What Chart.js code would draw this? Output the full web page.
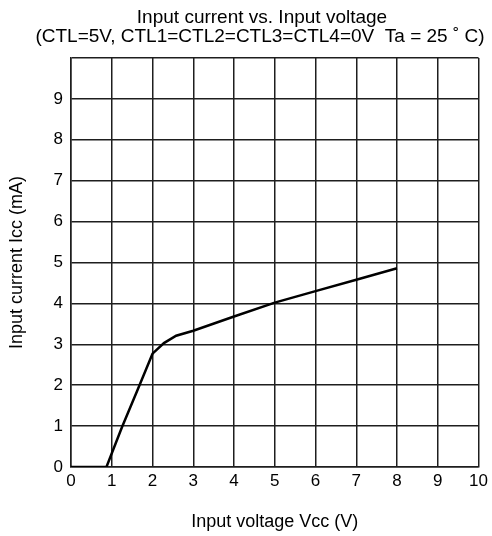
<!DOCTYPE html>
<html>
<head>
<meta charset="utf-8">
<script src="https://cdn.jsdelivr.net/npm/chart.js@4/dist/chart.umd.min.js"></script>
<style>
  body { margin: 0; background: #fff; }
  #wrap { width: 492px; height: 536px; }
</style>
</head>
<body>
<div id="wrap"><canvas id="myChart" width="492" height="536"></canvas></div>
<script>
// values
const vcc = [0, 0.87, 1.25, 1.64, 2.0, 2.28, 2.58, 3.0, 4.0, 5.0, 6.0, 7.0, 8.0]
const icc = [0, 0, 0.97, 1.9, 2.77, 3.03, 3.21, 3.33, 3.68, 4.02, 4.3, 4.58, 4.86]

const xTicks = [0, 1, 2, 3, 4, 5, 6, 7, 8, 9, 10]
const yTicks = [0, 1, 2, 3, 4, 5, 6, 7, 8, 9]

const titleLines = ["Input current vs. Input voltage", "(CTL=5V, CTL1=CTL2=CTL3=CTL4=0V  Ta = 25 \u02DA C)"]

const font = "'Liberation Sans', Arial, sans-serif"
const gridColor = "#1e1e1e"

let ctx = document.querySelector("#myChart").getContext("2d")

let points = vcc.map((v, i) => ({x: v, y: icc[i]}))

// title sits a bit right of the canvas centre in the original
const twoLineTitle = {
    id: "twoLineTitle",
    afterDraw(chart) {
        const c = chart.ctx
        c.save()
        c.fillStyle = "#000"
        c.font = "19px " + font
        c.textAlign = "center"
        c.textBaseline = "alphabetic"
        c.fillText(titleLines[0], 262, 23)
        c.fillText(titleLines[1], 260, 42)
        c.restore()
    }
}

let chart = new Chart(ctx, {
    type: "line",
    data: {
        datasets: [{
            data: points,
            borderColor: "#000",
            borderWidth: 2.5,
            pointRadius: 0,
            tension: 0,
            fill: false
        }]
    },
    options: {
        responsive: false,
        animation: false,
        layout: {
            padding: {left: 6, right: 12, top: 58, bottom: 0}
        },
        plugins: {
            legend: {display: false},
            tooltip: {enabled: false},
            title: {display: false}
        },
        scales: {
            x: {
                type: "linear",
                min: 0,
                max: 10,
                afterBuildTicks: (s) => { s.ticks = xTicks.map(v => ({value: v})) },
                afterFit: (s) => { s.height = 536 - 467 },
                ticks: {
                    color: "#000",
                    font: {family: font, size: 17},
                    padding: 4,
                    maxRotation: 0
                },
                grid: {color: gridColor, lineWidth: 1.5, drawTicks: false},
                border: {color: gridColor, width: 1.5},
                title: {
                    display: true,
                    text: "Input voltage Vcc (V)",
                    color: "#000",
                    font: {family: font, size: 18},
                    padding: {top: 10, bottom: 3}
                }
            },
            y: {
                type: "linear",
                min: 0,
                max: 10,
                afterBuildTicks: (s) => { s.ticks = yTicks.concat([10]).map(v => ({value: v})) },
                afterFit: (s) => { s.width = 71 - 6 },
                ticks: {
                    color: "#000",
                    font: {family: font, size: 17},
                    padding: 8,
                    callback: (v) => v === 10 ? "" : v
                },
                grid: {color: gridColor, lineWidth: 1.5, drawTicks: false},
                border: {color: gridColor, width: 1.5},
                title: {
                    display: true,
                    text: "Input current Icc (mA)",
                    color: "#000",
                    font: {family: font, size: 18},
                    padding: {top: 0, bottom: 0}
                }
            }
        }
    },
    plugins: [twoLineTitle]
})
</script>
</body>
</html>
